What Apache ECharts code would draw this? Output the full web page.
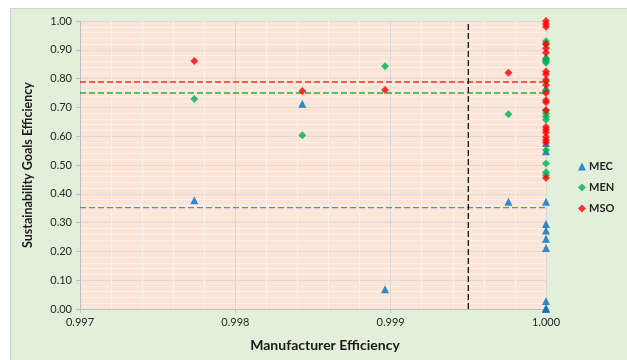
<!DOCTYPE html>
<html>
<head>
<meta charset="utf-8">
<script src="https://cdn.jsdelivr.net/npm/echarts@6/dist/echarts.min.js"></script>
<style>
  html, body { margin: 0; padding: 0; background: #ffffff; }
  #frame { position: absolute; left: 10px; top: 8px; width: 616px; height: 351px;
           background: #e2efda; border: 1px solid #d4d4d4; }
  #chart { position: absolute; left: 0; top: 0; width: 627px; height: 360px; }
</style>
</head>
<body>
<div id="frame"></div>
<div id="chart"></div>
<script>
// Efficiency scores per unit: x = manufacturer efficiency, y = sustainability goals efficiency
const mecX = [0.997736, 0.998431, 0.998964, 0.999758,
              1.000, 1.000, 1.000, 1.000, 1.000, 1.000, 1.000, 1.000, 1.000, 1.000, 1.000, 1.000];
const mecY = [0.378, 0.713, 0.069, 0.372,
              0.876, 0.767, 0.576, 0.548, 0.372, 0.295, 0.273, 0.244, 0.212, 0.028, 0.003, 0.000];

const menX = [0.997736, 0.998431, 0.998964, 0.999758,
              1.000, 1.000, 1.000, 1.000, 1.000, 1.000, 1.000, 1.000, 1.000, 1.000, 1.000, 1.000, 1.000, 1.000, 1.000];
const menY = [0.729, 0.603, 0.843, 0.676,
              0.930, 0.920, 0.870, 0.860, 0.855, 0.790, 0.760, 0.690, 0.680, 0.668, 0.657, 0.552, 0.505, 0.475, 0.465];

const msoX = [0.997736, 0.998431, 0.998964, 0.999758,
              1.000, 1.000, 1.000, 1.000, 1.000, 1.000, 1.000, 1.000, 1.000, 1.000, 1.000, 1.000, 1.000, 1.000, 1.000,
              1.000, 1.000, 1.000, 1.000, 1.000, 1.000];
const msoY = [0.861, 0.757, 0.760, 0.820,
              1.000, 0.990, 0.980, 0.920, 0.905, 0.890, 0.825, 0.815, 0.795, 0.778, 0.750, 0.725,
              0.718, 0.690, 0.632, 0.622, 0.613, 0.597, 0.587, 0.578, 0.455];

// Group averages and the manufacturer-efficiency cut-off
const mecMean = 0.352;
const menMean = 0.750;
const msoMean = 0.788;
const effCutoff = 0.9995;

const xMin = 0.997, xMax = 1.000;
const yMin = 0, yMax = 1;
const xTicks = ['0.997', '0.998', '0.999', '1.000'];

const pairs = (xs, ys) => xs.map((x, i) => [x, ys[i]]);

const font = 'Lato, "Open Sans", sans-serif';
const chart = echarts.init(document.getElementById('chart'), null, { renderer: 'canvas' });

// Dashed guide drawn as a plain two-point line series
const guide = (name, points, color) => ({
  name: name, type: 'line', data: points, symbol: 'none', silent: true,
  lineStyle: { color: color, width: 1.4, type: [6, 3] }, z: 1
});

chart.setOption({
  animation: false,
  backgroundColor: 'transparent',
  grid: {
    left: 80, right: 81, top: 21, bottom: 51,
    show: true, backgroundColor: '#fce4d6', borderWidth: 0
  },
  legend: {
    orient: 'vertical', left: 573, top: 156,
    itemWidth: 8, itemHeight: 8, itemGap: 10,
    textStyle: { fontFamily: font, fontSize: 11, fontWeight: 'bold', color: '#262626', padding: [0, 0, 0, -2] },
    data: [
      { name: 'MEC', icon: 'triangle' },
      { name: 'MEN', icon: 'diamond' },
      { name: 'MSO', icon: 'diamond' }
    ]
  },
  xAxis: {
    type: 'value', min: xMin, max: xMax, interval: 0.001,
    name: 'Manufacturer Efficiency', nameLocation: 'middle', nameGap: 29,
    nameTextStyle: { fontFamily: font, fontSize: 14, fontWeight: 'bold', color: '#1a1a1a', padding: [0, 0, 0, 24] },
    axisLine: { show: true, lineStyle: { color: '#bfbfbf' } },
    axisTick: { show: true, length: 4, lineStyle: { color: '#bfbfbf' } },
    axisLabel: {
      fontFamily: font, fontSize: 11, color: '#262626', margin: 8,
      formatter: (v) => xTicks[Math.round((v - xMin) * 1000)] || ''
    },
    splitLine: { show: true, lineStyle: { color: '#d9d9d9', width: 1 } },
    minorTick: { show: true, splitNumber: 5, length: 0 },
    minorSplitLine: { show: true, lineStyle: { color: '#fbf0ea', width: 1 } }
  },
  yAxis: {
    type: 'value', min: yMin, max: yMax, interval: 0.1,
    name: 'Sustainability Goals Efficiency', nameLocation: 'middle', nameGap: 46,
    nameTextStyle: { fontFamily: font, fontSize: 12.5, fontWeight: 'bold', color: '#1a1a1a' },
    axisLine: { show: true, lineStyle: { color: '#bfbfbf' } },
    axisTick: { show: true, length: 4, lineStyle: { color: '#bfbfbf' } },
    axisLabel: {
      fontFamily: font, fontSize: 11, color: '#262626', margin: 8,
      formatter: (v) => v.toFixed(2)
    },
    splitLine: { show: true, lineStyle: { color: '#d9d9d9', width: 1 } },
    minorTick: { show: true, splitNumber: 5, length: 0 },
    minorSplitLine: { show: true, lineStyle: { color: '#fbf0ea', width: 1 } }
  },
  series: [
    guide('mecAvg', [[xMin, mecMean], [xMax, mecMean]], '#4f86f7'),
    guide('menAvg', [[xMin, menMean], [xMax, menMean]], '#22b14c'),
    guide('msoAvg', [[xMin, msoMean], [xMax, msoMean]], '#ff2a2a'),
    guide('cutoff', [[effCutoff, yMin], [effCutoff, yMax]], '#1a1a1a'),
    {
      name: 'MEC', type: 'scatter', symbol: 'triangle', symbolSize: 8, z: 3,
      itemStyle: { color: '#0070c0' },
      data: pairs(mecX, mecY)
    },
    {
      name: 'MEN', type: 'scatter', symbol: 'diamond', symbolSize: 8, z: 3,
      itemStyle: { color: '#00b050' },
      data: pairs(menX, menY)
    },
    {
      name: 'MSO', type: 'scatter', symbol: 'diamond', symbolSize: 8, z: 3,
      itemStyle: { color: '#ff0000' },
      data: pairs(msoX, msoY)
    }
  ]
});
</script>
</body>
</html>
